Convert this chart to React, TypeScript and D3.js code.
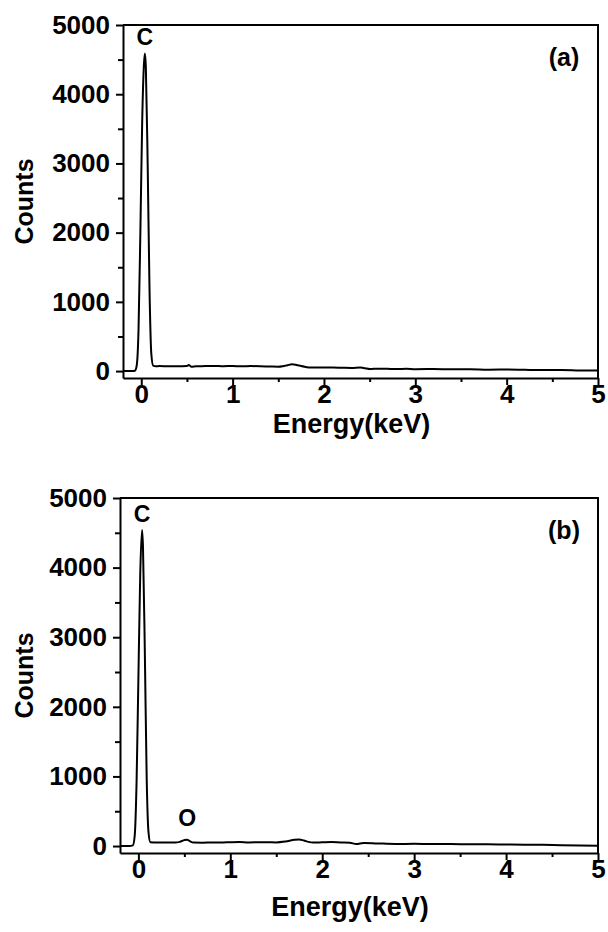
import React, { useEffect, useRef } from "react";
import * as d3 from "d3";

const width = 608;
const height = 932;

// EDS spectrum (a): [energy keV, counts]
const spectrumA: [number, number][] = [
  [-0.2, 0], [-0.1, 0], [-0.07, 5], [-0.05, 80], [-0.03, 600], [-0.01, 2000],
  [0.01, 3600], [0.03, 4450], [0.04, 4590], [0.05, 4400], [0.07, 3000],
  [0.09, 1200], [0.11, 250], [0.13, 80], [0.16, 70], [0.2, 72], [0.3, 70],
  [0.4, 71], [0.5, 72], [0.52, 88], [0.55, 62], [0.6, 70], [0.7, 72],
  [0.8, 75], [0.9, 70], [1.0, 74], [1.1, 68], [1.2, 72], [1.3, 70],
  [1.4, 66], [1.5, 62], [1.55, 70], [1.6, 85], [1.65, 98], [1.7, 88],
  [1.75, 72], [1.8, 60], [1.85, 50], [1.9, 52], [2.0, 50], [2.1, 52],
  [2.2, 48], [2.3, 45], [2.4, 52], [2.45, 42], [2.5, 30], [2.6, 35],
  [2.7, 32], [2.8, 30], [2.9, 33], [3.0, 28], [3.2, 30], [3.4, 25],
  [3.6, 28], [3.8, 20], [4.0, 22], [4.2, 18], [4.4, 15], [4.6, 16],
  [4.8, 10], [5.0, 8]
];

// EDS spectrum (b)
const spectrumB: [number, number][] = [
  [-0.2, 0], [-0.1, 0], [-0.06, 10], [-0.04, 150], [-0.02, 900], [0.0, 2400],
  [0.02, 3900], [0.04, 4540], [0.05, 4300], [0.07, 2800], [0.09, 1000],
  [0.11, 200], [0.13, 55], [0.2, 50], [0.3, 52], [0.4, 50], [0.45, 60],
  [0.5, 85], [0.53, 92], [0.56, 70], [0.6, 50], [0.7, 48], [0.8, 52],
  [0.9, 50], [1.0, 55], [1.1, 58], [1.2, 52], [1.3, 54], [1.4, 56],
  [1.5, 52], [1.6, 65], [1.7, 90], [1.75, 95], [1.8, 80], [1.85, 60],
  [1.9, 50], [2.0, 54], [2.1, 58], [2.2, 52], [2.3, 48], [2.37, 28],
  [2.45, 45], [2.6, 38], [2.8, 30], [3.0, 32], [3.2, 28], [3.4, 30],
  [3.6, 24], [3.8, 26], [4.0, 22], [4.2, 20], [4.4, 18], [4.6, 12],
  [4.8, 8], [5.0, 5]
];

const xMajor = [0, 1, 2, 3, 4, 5];
const xMinor = [0.5, 1.5, 2.5, 3.5, 4.5];
const yMajor = [0, 1000, 2000, 3000, 4000, 5000];
const yMinor = [500, 1500, 2500, 3500, 4500];

const font = "'Liberation Sans', Arial, sans-serif";

type Peak = { label: string; energy: number; counts: number };

type PanelProps = {
  data: [number, number][];
  tag: string;
  peaks: Peak[];
  left: number;
  right: number;
  top: number;
  bottom: number;
  titleOffset: number;
};

function Panel({ data, tag, peaks, left, right, top, bottom, titleOffset }: PanelProps) {
  const xAxisRef = useRef<SVGGElement>(null);
  const xMinorRef = useRef<SVGGElement>(null);
  const yAxisRef = useRef<SVGGElement>(null);
  const yMinorRef = useRef<SVGGElement>(null);

  const x = d3.scaleLinear().domain([-0.2, 5]).range([left, right]);
  const y = d3.scaleLinear().domain([-100, 5000]).range([bottom, top]);

  const line = d3
    .line<[number, number]>()
    .x(d => x(d[0]))
    .y(d => y(d[1]))
    .curve(d3.curveMonotoneX)(data);

  useEffect(() => {
    const fmt = d3.format("d");
    const xAxis = d3.axisBottom(x).tickValues(xMajor).tickSize(7).tickSizeOuter(0).tickPadding(0).tickFormat(fmt as any);
    const xMin = d3.axisBottom(x).tickValues(xMinor).tickSize(4).tickFormat(() => "");
    const yAxis = d3.axisLeft(y).tickValues(yMajor).tickSize(7).tickSizeOuter(0).tickPadding(6).tickFormat(fmt as any);
    const yMin = d3.axisLeft(y).tickValues(yMinor).tickSize(5).tickFormat(() => "");

    const style = (g: any) => {
      g.selectAll("path, line").attr("stroke", "#000").attr("stroke-width", 2);
      g.selectAll("text")
        .attr("fill", "#000")
        .style("font-family", font)
        .style("font-weight", "bold")
        .style("font-size", "26px");
    };

    d3.select(xAxisRef.current).call(xAxis as any).call(style);
    d3.select(xMinorRef.current).call(xMin as any).call(style);
    d3.select(xMinorRef.current).select(".domain").remove();
    d3.select(yAxisRef.current).call(yAxis as any).call(style);
    d3.select(yMinorRef.current).call(yMin as any).call(style);
    d3.select(yMinorRef.current).select(".domain").remove();
  });

  const midY = (top + bottom) / 2;

  return (
    <g>
      <path
        d={`M${left},${top}H${right}V${bottom}`}
        fill="none"
        stroke="#000"
        strokeWidth={2}
      />
      <path d={line || ""} fill="none" stroke="#000" strokeWidth={2} strokeLinejoin="round" />
      <g ref={xAxisRef} transform={`translate(0,${bottom})`} />
      <g ref={xMinorRef} transform={`translate(0,${bottom})`} />
      <g ref={yAxisRef} transform={`translate(${left},0)`} />
      <g ref={yMinorRef} transform={`translate(${left},0)`} />
      <text
        x={(left + right) / 2 - 9}
        y={bottom + titleOffset}
        textAnchor="middle"
        fontFamily={font}
        fontWeight="bold"
        fontSize={27}
      >
        Energy(keV)
      </text>
      <text
        transform={`translate(33,${midY}) rotate(-90)`}
        textAnchor="middle"
        fontFamily={font}
        fontWeight="bold"
        fontSize={25}
      >
        Counts
      </text>
      <text
        x={right - 34}
        y={top + 41}
        textAnchor="middle"
        fontFamily={font}
        fontWeight="bold"
        fontSize={25}
      >
        {tag}
      </text>
      {peaks.map(p => (
        <text
          key={p.label}
          x={x(p.energy)}
          y={y(p.counts) - 8}
          textAnchor="middle"
          fontFamily={font}
          fontWeight="bold"
          fontSize={23}
        >
          {p.label}
        </text>
      ))}
    </g>
  );
}

const peaksA: Peak[] = [{ label: "C", energy: 0.04, counts: 4590 }];
const peaksB: Peak[] = [
  { label: "C", energy: 0.04, counts: 4540 },
  { label: "O", energy: 0.53, counts: 180 }
];

export default function App() {
  return (
    <svg
      width={width}
      height={height}
      style={{ position: "absolute", left: 0, top: 0, background: "#fff" }}
    >
      <Panel data={spectrumA} tag="(a)" peaks={peaksA} left={123} right={598} top={25} bottom={378} titleOffset={55} />
      <Panel data={spectrumB} tag="(b)" peaks={peaksB} left={120} right={598} top={498} bottom={853} titleOffset={63} />
    </svg>
  );
}
